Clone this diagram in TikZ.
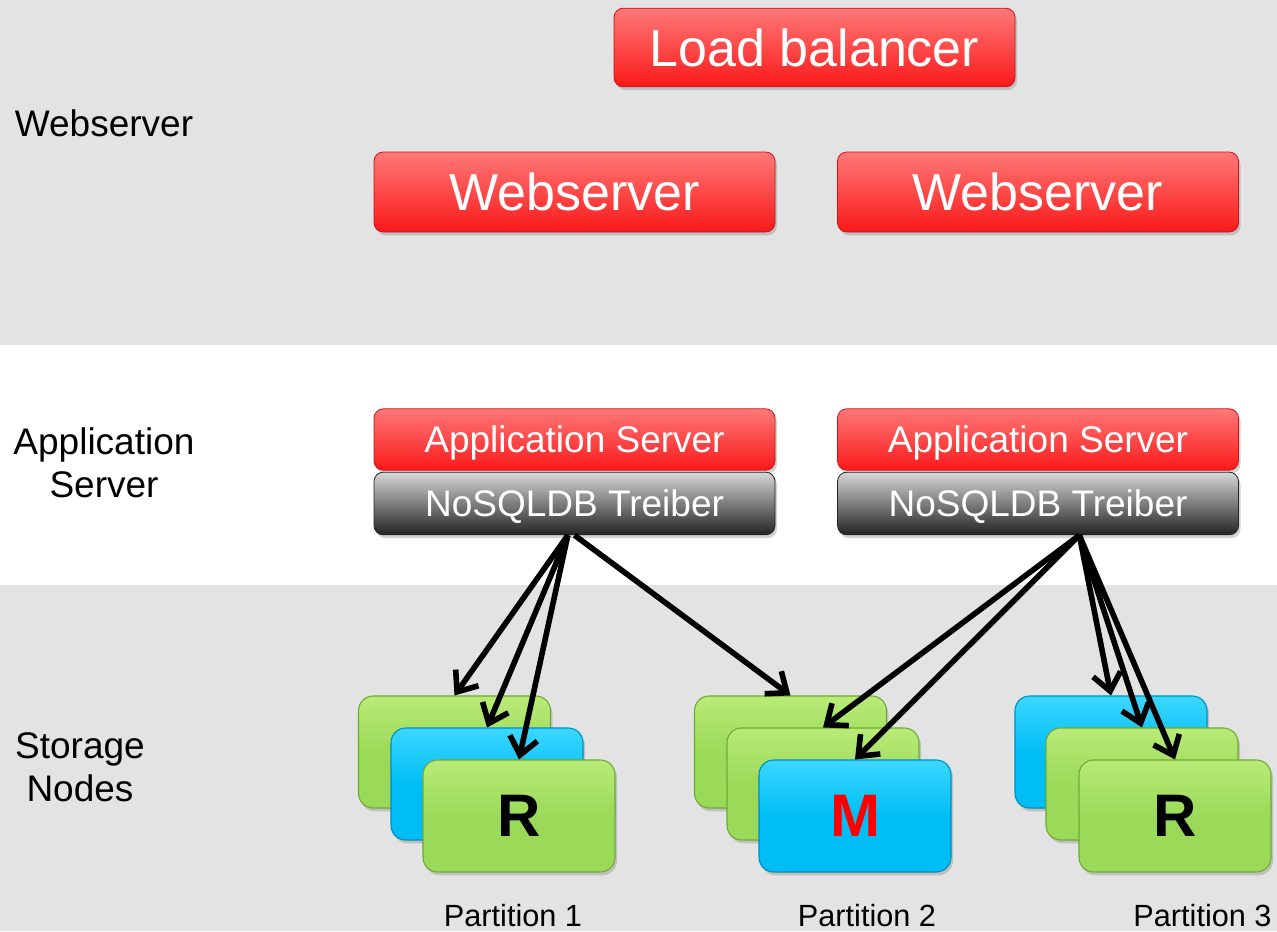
\documentclass[tikz,border=0pt]{standalone}
\usepackage{fontspec}
\setmainfont{Liberation Sans}
\usetikzlibrary{arrows.meta,shadows}
\definecolor{bandgray}{RGB}{227,227,227}
\definecolor{redtop}{RGB}{255,120,120}
\definecolor{redbot}{RGB}{250,25,25}
\definecolor{redborder}{RGB}{200,20,20}
\definecolor{drvtop}{RGB}{215,215,215}
\definecolor{drvmid}{RGB}{95,95,95}
\definecolor{drvbot}{RGB}{35,35,35}
\definecolor{greenbox}{RGB}{155,218,88}
\definecolor{greentop}{RGB}{185,235,120}
\definecolor{greenborder}{RGB}{110,170,50}
\definecolor{bluebox}{RGB}{0,190,245}
\definecolor{bluetop}{RGB}{60,215,255}
\definecolor{blueborder}{RGB}{0,140,190}
\definecolor{mred}{RGB}{255,0,0}
\begin{document}
\begin{tikzpicture}[x=0.75pt,y=-0.75pt,
  redbox/.style={rectangle,rounded corners=7pt,draw=redborder,line width=0.6pt,
    top color=redtop,bottom color=redbot,text=white,text depth=0pt,
    drop shadow={shadow xshift=1.5pt,shadow yshift=-2.5pt,opacity=0.35}},
  drvbox/.style={rectangle,rounded corners=7pt,draw=drvbot,line width=0.6pt,
    top color=drvtop,middle color=drvmid,bottom color=drvbot,text=white,text depth=0pt,
    drop shadow={shadow xshift=1.5pt,shadow yshift=-2.5pt,opacity=0.35}},
  greennode/.style={rectangle,rounded corners=11pt,draw=greenborder,line width=0.8pt,
    top color=greentop,bottom color=greenbox,middle color=greenbox,
    minimum width=144pt,minimum height=84pt,
    drop shadow={shadow xshift=1.5pt,shadow yshift=-2.5pt,opacity=0.35}},
  bluenode/.style={rectangle,rounded corners=11pt,draw=blueborder,line width=0.8pt,
    top color=bluetop,bottom color=bluebox,middle color=bluebox,
    minimum width=144pt,minimum height=84pt,
    drop shadow={shadow xshift=1.5pt,shadow yshift=-2.5pt,opacity=0.35}},
  bigfont/.style={font=\fontsize{39}{44}\selectfont},
  midfont/.style={font=\fontsize{27.75}{32.5}\selectfont},
  smallfont/.style={font=\fontsize{23}{27}\selectfont},
  letter/.style={font=\fontsize{45}{50}\selectfont\bfseries},
  conn/.style={line width=4.2pt,-{Straight Barb[length=13pt,width=21pt]}},
]
\useasboundingbox (0,0) rectangle (1277,931);
% bands
\fill[bandgray] (0,0) rectangle (1277,345);
\fill[white] (0,345) rectangle (1277,585);
\fill[bandgray] (0,585) rectangle (1277,931);

% left labels
\node[midfont] (lweb) at (104,123) {Webserver};
\node[midfont,align=center] (lapp) at (104,463) {Application\\Server};
\node[midfont,align=center] (lsto) at (80,767) {Storage\\Nodes};

% top servers
\node[redbox,bigfont,minimum width=300.75pt,minimum height=59pt] (lb) at (814.5,47.5) {Load balancer};
\node[redbox,bigfont,minimum width=300.75pt,minimum height=60pt] (ws1) at (574.5,192) {Webserver};
\node[redbox,bigfont,minimum width=300.75pt,minimum height=60pt] (ws2) at (1038,192) {Webserver};

% application servers
\node[redbox,midfont,minimum width=300.75pt,minimum height=46pt] (app1) at (574.5,439.5) {Application Server};
\node[drvbox,midfont,minimum width=300.75pt,minimum height=47pt] (drv1) at (574.5,503.5) {NoSQLDB Treiber};
\node[redbox,midfont,minimum width=300.75pt,minimum height=46pt] (app2) at (1038,439.5) {Application Server};
\node[drvbox,midfont,minimum width=300.75pt,minimum height=47pt] (drv2) at (1038,503.5) {NoSQLDB Treiber};

% storage nodes
\node[greennode] (p1a) at (454.5,752) {};
\node[bluenode] (p1b) at (487,784) {};
\node[greennode,letter] (p1c) at (519,816) {R};

\node[greennode] (p2a) at (790.5,752) {};
\node[greennode] (p2b) at (823,784) {};
\node[bluenode,letter,text=mred] (p2c) at (855,816) {M};

\node[bluenode] (p3a) at (1111,752) {};
\node[greennode] (p3b) at (1142,784) {};
\node[greennode,letter] (p3c) at (1175,816) {R};

% partition labels
\node[smallfont] (pl1) at (513,916) {Partition 1};
\node[smallfont] (pl2) at (867,916) {Partition 2};
\node[smallfont] (pl3) at (1202.5,916) {Partition 3};

% connector origins
\coordinate (o1) at ([xshift=-5pt]drv1.south);
\coordinate (o1b) at ([xshift=0pt]drv1.south);
\coordinate (o2) at ([xshift=31pt]drv2.south);

\draw[conn] (o1) -- (p1a.north);
\draw[conn] (o1) -- (p1b.north);
\draw[conn] (o1) -- (p1c.north);
\draw[conn] (o1b) -- (p2a.north);
\draw[conn] (o2) -- (p2b.north);
\draw[conn] (o2) -- (p2c.north);
\draw[conn] (o2) -- (p3a.north);
\draw[conn] (o2) -- (p3b.north);
\draw[conn] (o2) -- (p3c.north);
\end{tikzpicture}
\end{document}
